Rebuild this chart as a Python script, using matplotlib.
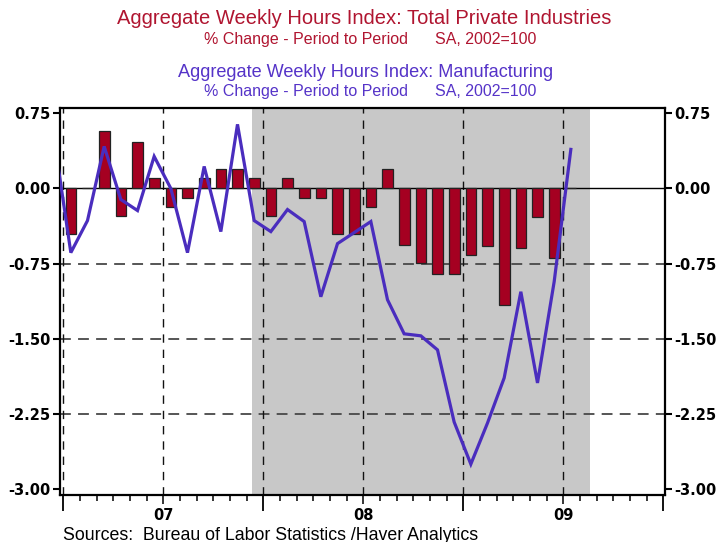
import matplotlib
matplotlib.use("Agg")
import matplotlib.pyplot as plt
import numpy as np

# ---------------- data ----------------
# Total private industries: monthly % change, Jan 2007 .. Jul 2009
private_months = ["2007-01", "2007-02", "2007-03", "2007-04", "2007-05", "2007-06",
                  "2007-07", "2007-08", "2007-09", "2007-10", "2007-11", "2007-12",
                  "2008-01", "2008-02", "2008-03", "2008-04", "2008-05", "2008-06",
                  "2008-07", "2008-08", "2008-09", "2008-10", "2008-11", "2008-12",
                  "2009-01", "2009-02", "2009-03", "2009-04", "2009-05", "2009-06",
                  "2009-07"]
private_chg = [-0.45, 0.00, 0.57, -0.27, 0.46, 0.10, -0.18, -0.09, 0.10, 0.19, 0.19, 0.10,
               -0.27, 0.10, -0.09, -0.09, -0.45, -0.45, -0.18, 0.19, -0.56, -0.74, -0.85, -0.85,
               -0.66, -0.57, -1.16, -0.59, -0.28, -0.69, 0.00]

# Manufacturing: monthly % change, Dec 2006 .. Jul 2009
manuf_months = ["2006-12"] + private_months
manuf_chg = [0.49, -0.64, -0.32, 0.42, -0.11, -0.22, 0.32, 0.00, -0.64, 0.22, -0.43, 0.64, -0.32,
             -0.43, -0.21, -0.33, -1.08, -0.55, -0.44, -0.33, -1.11, -1.45, -1.47, -1.61, -2.33,
             -2.75, -2.34, -1.89, -1.03, -1.94, -0.93, 0.39]

recession = ("2007-12", "2009-08")   # shaded period
year_labels = ["07", "08", "09"]
y_ticks = [0.75, 0.00, -0.75, -1.50, -2.25, -3.00]

# ---------------- helpers ----------------
BASE_YEAR = 2007
def month_pos(s, frac=0.45):
    y, m = s.split("-")
    return (int(y) - BASE_YEAR) * 12 + (int(m) - 1) + frac

x_priv = np.array([month_pos(m) for m in private_months])
x_manu = np.array([month_pos(m) for m in manuf_months])

# ---------------- figure ----------------
W, H = 726, 542
fig = plt.figure(figsize=(W / 100, H / 100), dpi=100)
L, R, T, B = 60, 665, 108, 495
ax = fig.add_axes([L / W, 1 - B / H, (R - L) / W, (B - T) / H])

RED = "#A50021"
BLUE = "#4A2DBE"
TITLE_RED = "#B01530"
TITLE_BLUE = "#5533C8"

ax.set_xlim(-0.2, 36.1)
ax.set_ylim(-3.058, 0.803)

# recession shading
ax.axvspan(month_pos(recession[0], 0.32), month_pos(recession[1], 0.6),
           color="#C8C8C8", lw=0, zorder=0)

# grid
for yv in [-0.75, -1.50, -2.25]:
    ax.axhline(yv, color="#484848", lw=1.3, dashes=(6, 4), zorder=1)
for xv in [0, 6, 12, 18, 24, 30]:
    ax.axvline(xv, color="#111111", lw=1.0, dashes=(6, 5), zorder=1)
ax.axhline(0, color="black", lw=1.0, zorder=2)

# bars
ax.bar(x_priv, private_chg, width=0.64, color=RED, edgecolor="#222222",
       linewidth=0.9, zorder=3)

# line
ax.plot(x_manu, manuf_chg, color=BLUE, lw=2.3, zorder=4, clip_on=True,
        solid_joinstyle="miter")

# spines
for s in ax.spines.values():
    s.set_linewidth(1.6)
    s.set_color("black")

# y ticks on both sides
ax.set_yticks(y_ticks)
ax.set_yticklabels([f"{v:.2f}" for v in y_ticks])
ax.tick_params(axis="y", which="both", left=True, right=True, labelleft=True,
               labelright=True, direction="out", length=5, width=1.5, pad=2,
               labelsize=10.5)
for lab in ax.get_yticklabels():
    lab.set_fontweight("bold")
    lab.set_family("DejaVu Sans")

# x ticks: yearly long, monthly short
ax.set_xticks([0, 12, 24, 36])
ax.set_xticklabels([])
ax.set_xticks([m for m in range(37) if m % 12 != 0 and m % 6 != 0], minor=True)
ax.tick_params(axis="x", which="major", direction="out", length=11.5, width=1.3)
ax.tick_params(axis="x", which="minor", direction="out", length=4.5, width=1.1)

sec = ax.secondary_xaxis("bottom")
sec.spines["bottom"].set_visible(False)
sec.set_xticks([6, 18, 30])
sec.set_xticklabels(year_labels)
sec.tick_params(axis="x", direction="out", length=6.5, width=1.1, pad=3,
                labelsize=10.5)
for lab in sec.get_xticklabels():
    lab.set_fontweight("bold")
    lab.set_family("DejaVu Sans")

# titles
tfont = "Liberation Sans"
fig.text(364 / W, 1 - 19 / H, "Aggregate Weekly Hours Index: Total Private Industries",
         ha="center", va="center", color=TITLE_RED, fontsize=14.5, family=tfont)
fig.text(370 / W, 1 - 39.5 / H, "% Change - Period to Period      SA, 2002=100",
         ha="center", va="center", color=TITLE_RED, fontsize=11.5, family=tfont)
fig.text(365.5 / W, 1 - 72.5 / H, "Aggregate Weekly Hours Index: Manufacturing",
         ha="center", va="center", color=TITLE_BLUE, fontsize=13.1, family=tfont)
fig.text(370 / W, 1 - 91.5 / H, "% Change - Period to Period      SA, 2002=100",
         ha="center", va="center", color=TITLE_BLUE, fontsize=11.5, family=tfont)

fig.text(63 / W, 1 - 539.5 / H, "Sources:  Bureau of Labor Statistics /Haver Analytics",
         ha="left", va="baseline", color="black", fontsize=12.8, family=tfont)

fig.savefig("out.png", dpi=100)
